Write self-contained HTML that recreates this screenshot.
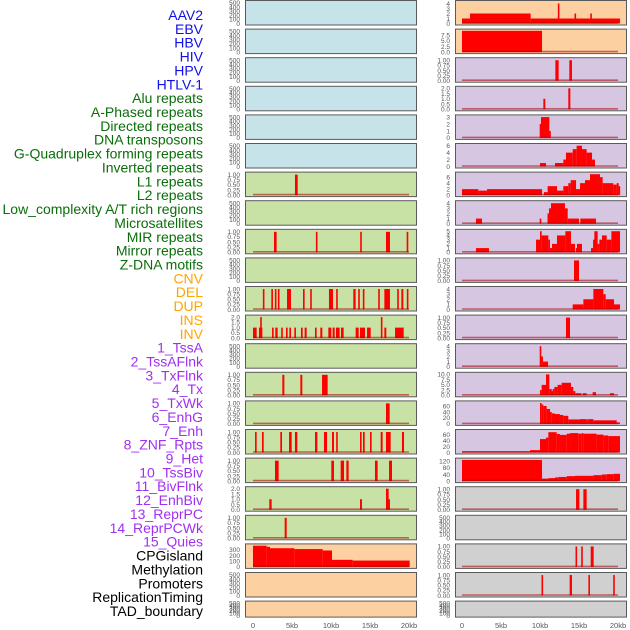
<!DOCTYPE html>
<html><head><meta charset="utf-8"><style>
html,body{margin:0;padding:0;background:#fff;width:630px;height:630px;overflow:hidden}
svg{display:block;font-family:"Liberation Sans",sans-serif}
</style></head><body>
<svg id="chart" width="630" height="630" viewBox="0 0 630 630" xmlns="http://www.w3.org/2000/svg"></svg>
<script>
const trackNames = ["AAV2","EBV","HBV","HIV","HPV","HTLV-1","Alu repeats","A-Phased repeats","Directed repeats","DNA transposons","G-Quadruplex forming repeats","Inverted repeats","L1 repeats","L2 repeats","Low_complexity A/T rich regions","Microsatellites","MIR repeats","Mirror repeats","Z-DNA motifs","CNV","DEL","DUP","INS","INV","1_TssA","2_TssAFlnk","3_TxFlnk","4_Tx","5_TxWk","6_EnhG","7_Enh","8_ZNF_Rpts","9_Het","10_TssBiv","11_BivFlnk","12_EnhBiv","13_ReprPC","14_ReprPCWk","15_Quies","CPGisland","Methylation","Promoters","ReplicationTiming","TAD_boundary"];
const nameColors = [];
for (let i=0;i<44;i++){ nameColors.push(i<6?"#1010e8":i<19?"#0a6e0a":i<24?"#ffa500":i<39?"#a030f0":"#000"); }
const xTickValues = [0,5,10,15,20];
const xTickLabels = ["0","5kb","10kb","15kb","20kb"];
const emptyTicks = [0,100,200,300,400,500];
const binTicks = [0,0.25,0.5,0.75,1];
const leftBg = ["#c7e3ea","#c7e3ea","#c7e3ea","#c7e3ea","#c7e3ea","#c7e3ea","#c8e1a4","#c8e1a4","#c8e1a4","#c8e1a4","#c8e1a4","#c8e1a4","#c8e1a4","#c8e1a4","#c8e1a4","#c8e1a4","#c8e1a4","#c8e1a4","#c8e1a4","#fdd0a2","#fdd0a2","#fdd0a2"];
const rightBg = ["#fdd0a2","#fdd0a2","#d6c6e2","#d6c6e2","#d6c6e2","#d6c6e2","#d6c6e2","#d6c6e2","#d6c6e2","#d6c6e2","#d6c6e2","#d6c6e2","#d6c6e2","#d6c6e2","#d6c6e2","#d6c6e2","#d6c6e2","#d0d0d0","#d0d0d0","#d0d0d0","#d0d0d0","#d0d0d0"];
// y-axis settings per panel: [ymax, ticks, decimals]
const leftYMax = [520,520,520,520,520,520,1.05,520,1.05,520,1.05,2.05,520,1.05,1.05,1.05,1.05,2.05,1.05,380,520,520];
const rightYMax = [4.3,9.6,1.05,2.05,3.1,6.2,7.2,4.2,5.1,1.05,4.2,1.05,4.2,10.3,72,72,130,1.05,520,1.05,1.05,520];
const ticks2 = [0,0.5,1,1.5,2];
const leftTicks = [emptyTicks,emptyTicks,emptyTicks,emptyTicks,emptyTicks,emptyTicks,binTicks,emptyTicks,binTicks,emptyTicks,binTicks,ticks2,emptyTicks,binTicks,binTicks,binTicks,binTicks,ticks2,binTicks,[0,100,200,300],emptyTicks,emptyTicks];
const rightTicks = [[0,1,2,3,4],[0,2.5,5,7.5],binTicks,ticks2,[0,1,2,3],[0,2,4,6],[0,2,4,6],[0,1,2,3,4],[0,1,2,3,4,5],binTicks,[0,1,2,3,4],binTicks,[0,1,2,3,4],[0,2.5,5,7.5,10],[0,20,40,60],[0,20,40,60],[0,40,80,120],binTicks,emptyTicks,binTicks,binTicks,emptyTicks];
const leftDecimals = [0,0,0,0,0,0,2,0,2,0,2,1,0,2,2,2,2,1,2,0,0,0];
const rightDecimals = [0,1,2,1,0,0,0,0,0,2,0,2,0,1,0,0,0,2,0,2,2,0];
// segments: [startKb, endKb, value]
const leftSegments = [
 [],[],[],[],[],[],
 [[5.38,5.73,1]],
 [],
 [[2.69,3.03,1],[8.08,8.25,1],[13.76,13.93,1],[17.05,17.56,1],[19.7,19.91,1]],
 [],
 [[1.28,1.45,1],[2.35,2.56,1],[2.82,2.99,1],[3.21,3.38,1],[4.36,4.87,1],[6.41,6.62,1],[7.35,7.52,1],[9.74,10.26,1],[10.68,10.85,1],[12.86,13.16,1],[13.5,13.68,1],[14.1,14.27,1],[16.07,16.24,1],[16.84,17.56,1],[18.5,18.68,1],[19.02,19.27,1],[19.74,19.91,1]],
 [[0,0.47,1],[0.77,1.2,1],[0.94,1.11,2],[2.44,2.65,1],[2.86,3.16,1],[3.63,3.8,1],[4.23,4.44,1],[4.66,4.87,1],[5.3,5.51,1],[6.15,6.37,1],[6.62,6.88,1],[7.95,8.16,1],[8.63,8.89,1],[9.66,10.04,1],[10.21,10.47,1],[10.64,11.11,1],[11.28,11.62,1],[13.16,13.55,1],[13.72,14.36,1],[14.62,15.09,1],[16.41,16.58,2],[16.84,17.09,1],[18.21,19.32,1]],
 [],
 [[3.76,4.02,1],[6.07,6.32,1],[8.85,9.57,1]],
 [[17.05,17.52,1]],
 [[0.26,0.47,1],[1.15,1.37,1],[3.5,3.72,1],[4.62,4.96,1],[5.38,5.68,1],[7.95,8.25,1],[9.1,9.49,1],[10.13,10.38,1],[10.68,10.85,1],[13.72,13.93,1],[14.1,14.32,1],[15.0,15.21,1],[16.37,16.62,1],[17.05,17.65,1],[19.1,19.36,1]],
 [[2.82,3.29,1],[10.04,10.38,1],[11.24,11.67,1],[11.97,12.26,1],[15.64,15.98,1],[17.44,17.82,1]],
 [[2.09,2.39,1],[13.72,13.97,1],[17.05,17.39,2],[17.39,17.52,1]],
 [[4.06,4.32,1]],
 [[0,1.75,375],[1.75,2.18,355],[2.18,5.3,330],[5.3,8.93,315],[8.93,10.13,290],[10.13,12.78,125],[12.78,20.09,112]],
 [],[]
];
const rightSegments = [
 [[0,1.03,1],[1.03,8.8,2],[8.8,20.26,1],[12.33,12.45,4],[14.45,14.6,2],[16.48,16.62,2]],
 [[0,10.26,9.5]],
 [[11.97,12.39,1],[13.76,14.1,1]],
 [[10.43,10.68,1],[13.63,13.89,2]],
 [[10.0,10.13,2],[10.13,11.2,3],[11.2,11.37,1]],
 [[10.0,10.77,1],[11.92,12.99,1],[12.99,13.33,2],[13.33,14.19,4],[14.19,14.7,5],[14.7,15.38,6],[15.38,15.98,5],[15.98,16.67,4],[16.67,17.05,2]],
 [[0,2.09,2],[2.09,3.21,1.5],[3.21,10.26,2],[10.51,10.98,1],[10.98,12.18,3],[12.18,12.99,1.5],[12.99,13.63,3],[13.63,13.93,4],[13.93,14.62,5],[14.62,15.13,2],[15.13,15.77,4],[15.77,16.41,5],[16.41,17.69,7],[17.69,18.03,6],[18.03,19.4,4],[19.4,19.83,3.5],[19.83,20.09,4],[20.09,20.26,3]],
 [[1.79,2.56,1],[10.0,10.13,1],[10.98,11.15,2],[11.15,11.41,3],[11.41,13.2,4],[13.2,13.55,3],[13.55,15.0,1],[15.17,17.18,1]],
 [[1.79,3.46,1],[9.49,10.0,3],[10.0,10.21,5],[10.21,11.07,4],[11.07,11.28,3],[11.28,11.54,1],[11.54,12.18,2],[12.18,13.25,4],[13.25,13.97,5],[13.97,14.49,2],[14.66,14.74,1],[14.74,15.38,2],[16.54,16.84,1],[16.84,16.97,3],[16.97,17.39,5],[17.39,17.61,2],[17.61,17.95,3],[17.95,18.55,4],[18.55,19.15,3],[19.15,20.26,5]],
 [[14.36,15.0,1]],
 [[14.19,15.56,1],[15.56,16.84,2],[16.84,18.12,4],[18.12,18.42,3],[18.42,19.49,2],[19.49,20.26,1]],
 [[13.33,13.85,1]],
 [[10.0,10.13,4],[10.13,10.38,2],[10.38,11.03,1]],
 [[10.0,10.21,2.5],[10.21,10.77,5],[10.77,11.2,10],[11.2,11.5,3],[11.5,11.62,2],[11.62,11.84,3],[11.84,12.26,4],[12.26,12.78,5],[12.78,13.97,6],[13.97,14.27,4],[14.27,14.53,2],[14.53,15.3,1],[15.47,15.98,1],[16.75,17.18,1.5],[18.97,19.49,1]],
 [[10.0,10.21,70],[10.21,10.43,65],[10.43,10.85,60],[10.85,11.28,50],[11.28,11.5,40],[11.5,11.92,35],[11.92,12.56,33],[12.56,12.99,30],[12.99,13.63,27],[13.63,15.13,15],[15.13,15.98,16],[15.98,16.2,15],[16.2,16.84,16],[16.84,19.83,12],[19.83,20.26,5]],
 [[0,8.72,4],[8.72,10.0,8],[10.0,10.77,45],[10.77,11.07,50],[11.07,12.14,68],[12.14,12.56,62],[12.56,13.42,59],[13.42,13.85,63],[13.85,14.91,65],[14.91,15.34,63],[15.34,15.56,65],[15.56,17.26,63],[17.26,18.12,60],[18.12,18.76,57],[18.76,20.26,55]],
 [[0,10.26,128],[10.26,11.07,15],[11.07,11.92,18],[11.92,12.35,22],[12.35,13.42,25],[13.42,14.49,30],[14.49,16.84,32],[16.84,17.91,36],[17.91,18.55,40],[18.55,19.4,42],[19.4,20.26,44]],
 [[14.62,15.05,1],[15.56,15.98,1]],
 [],
 [[14.57,14.74,1],[15.3,15.47,1],[16.5,16.88,1]],
 [[10.21,10.38,1],[13.8,14.1,1],[16.24,16.37,1],[19.4,19.57,1]],
 []
];

const NS = "http://www.w3.org/2000/svg";
const svg = document.getElementById("chart");
function mk(tag, attrs, parent){ const e=document.createElementNS(NS,tag); for(const k in attrs) e.setAttribute(k,attrs[k]); (parent||svg).appendChild(e); return e; }

// track name labels
trackNames.forEach((n,i)=>{
  const t = mk("text",{x:203,y:20+i*13.86,"text-anchor":"end","font-size":"14",fill:nameColors[i]});
  t.textContent = n;
  
  
});

function drawColumn(colX, colW, x0px, pxPerKb, tickX, bgs, ymaxs, tickSets, decs, segs, side){
  const xs = kb => x0px + kb*pxPerKb;
  for (let i=0;i<22;i++){
    const top = i*28.6 + 0.5;
    const h = i===21 ? 16 : 24.5;
    const g = mk("g",{});
    
    
    const bg = mk("rect",{x:colX,y:top,width:colW,height:h,fill:bgs[i],stroke:"#5a5a5a","stroke-width":1},g);
    
    
    const base = top + h - 1.5;
    const span = h - 3;
    const ys = v => base - v/ymaxs[i]*span;
    // ticks
    tickSets[i].forEach(tv=>{
      const tt = mk("text",{x:tickX,y:ys(tv)+2.3,"text-anchor":"end","font-size":"6.5",fill:"#555"},g);
      tt.textContent = tv.toFixed(decs[i]);
      
      
    });
    if (segs[i].length){
      segs[i].forEach(s=>{
        let x1 = xs(s[0]), x2 = xs(s[1]);
        if (x2-x1 < 1.6){ const c=(x1+x2)/2; x1=c-0.8; x2=c+0.8; }
        const r = mk("rect",{x:x1,y:ys(s[2]),width:x2-x1,height:base-ys(s[2]),fill:"#ff0000"},g);
        
        
      });
      const bl = mk("line",{x1:xs(0),x2:xs(20),y1:base-0.5,y2:base-0.5,stroke:"rgba(170,0,0,0.55)","stroke-width":1.6},g);
      
      
    }
  }
  xTickValues.forEach((v,j)=>{
    const t = mk("text",{x:xs(v),y:628,"text-anchor":"middle","font-size":"7.5",fill:"#555"});
    t.textContent = xTickLabels[j];
    
    
  });
}
drawColumn(245.5,171,253,7.8,240,leftBg,leftYMax,leftTicks,leftDecimals,leftSegments,"left");
drawColumn(455.5,171,462,7.8,450,rightBg,rightYMax,rightTicks,rightDecimals,rightSegments,"right");
</script>
</body></html>
